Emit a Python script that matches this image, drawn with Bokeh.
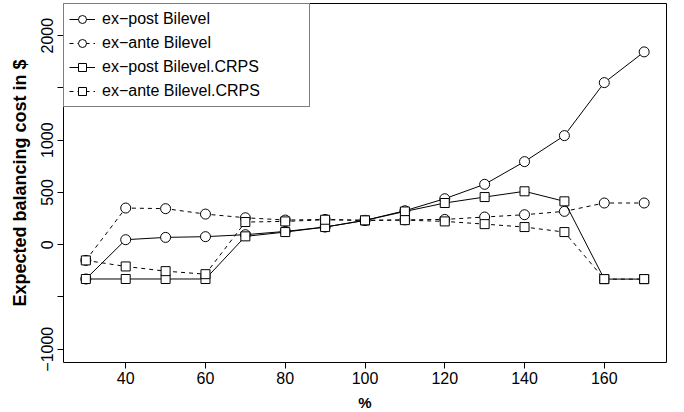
from bokeh.plotting import figure
from bokeh.models import Range1d, FixedTicker, Legend, LegendItem
from bokeh.embed import file_html
from bokeh.resources import INLINE

pct = [30, 40, 50, 60, 70, 80, 90, 100, 110, 120, 130, 140, 150, 160, 170]
expost_bilevel = [-328, 48, 70, 77, 96, 127, 169, 233, 325, 440, 578, 795, 1044, 1551, 1845]
exante_bilevel = [-150, 351, 345, 293, 258, 236, 242, 233, 238, 242, 265, 287, 319, 399, 399]
expost_crps = [-328, -328, -328, -328, 80, 121, 169, 233, 318, 399, 456, 511, 415, -329, -329]
exante_crps = [-150, -208, -253, -282, 217, 223, 239, 233, 235, 223, 197, 169, 121, -329, -329]

x_ticks = [40, 60, 80, 100, 120, 140, 160]
y_ticks = [-1000, -500, 0, 500, 1000, 1500, 2000]
y_tick_labels = {-1000: "\u22121000", -500: "", 0: "0", 500: "500", 1000: "1000", 1500: "", 2000: "2000"}
series_names = ["ex\u2212post Bilevel", "ex\u2212ante Bilevel", "ex\u2212post Bilevel.CRPS", "ex\u2212ante Bilevel.CRPS"]

FONT = "Liberation Sans"

p = figure(width=684, height=412, output_backend="svg", toolbar_location=None,
           x_range=Range1d(24.4, 175.6), y_range=Range1d(-1127, 2308),
           min_border_left=63, min_border_right=18, min_border_top=3, min_border_bottom=50)
p.frame_width = 603
p.frame_height = 359
p.grid.visible = False
p.outline_line_color = "black"
p.outline_line_width = 1
p.background_fill_color = "white"
p.border_fill_color = "white"

for ax in (p.xaxis[0], p.yaxis[0]):
    ax.axis_line_color = None
    ax.major_tick_out = 6
    ax.major_tick_in = 0
    ax.minor_tick_line_color = None
    ax.major_tick_line_color = "black"
    ax.major_label_text_font = FONT
    ax.major_label_text_font_size = "16px"
    ax.major_label_text_color = "black"
    ax.axis_label_text_font = FONT
    ax.axis_label_text_font_style = "bold"
    ax.axis_label_text_color = "black"

p.xaxis.ticker = FixedTicker(ticks=x_ticks)
p.xaxis.axis_label = "%"
p.xaxis.axis_label_text_font_size = "15px"
p.xaxis.major_label_standoff = 3
p.xaxis.axis_label_standoff = 7

p.yaxis.ticker = FixedTicker(ticks=y_ticks)
p.yaxis.major_label_overrides = y_tick_labels
p.yaxis.major_label_orientation = "vertical"
p.yaxis.axis_label = "Expected balancing cost in $"
p.yaxis.axis_label_text_font_size = "18px"
p.yaxis.major_label_standoff = 4
p.yaxis.axis_label_standoff = 9

series = [
    (expost_bilevel, "solid", "circle", 10),
    (exante_bilevel, "4 4", "circle", 10),
    (expost_crps, "solid", "square", 9),
    (exante_crps, "4 4", "square", 9),
]

items = []
for (vals, dash, marker, size), name in zip(series, series_names):
    l = p.line(pct, vals, line_color="black", line_width=1, line_dash=dash)
    s = p.scatter(pct, vals, marker=marker, size=size, line_color="black",
                  fill_color="white", line_width=1)
    items.append(LegendItem(label=name, renderers=[l, s]))

legend = Legend(items=items, location="top_left")
legend.margin = 0
legend.padding = 5
legend.spacing = 4
legend.border_line_color = "black"
legend.border_line_width = 1
legend.background_fill_color = "white"
legend.background_fill_alpha = 1
legend.label_text_font = FONT
legend.label_text_font_size = "16px"
legend.label_text_color = "black"
legend.glyph_width = 26
legend.glyph_height = 20
legend.label_height = 20
legend.label_width = 202
legend.label_standoff = 7
p.add_layout(legend)

open("out.html", "w").write(file_html(p, INLINE))
